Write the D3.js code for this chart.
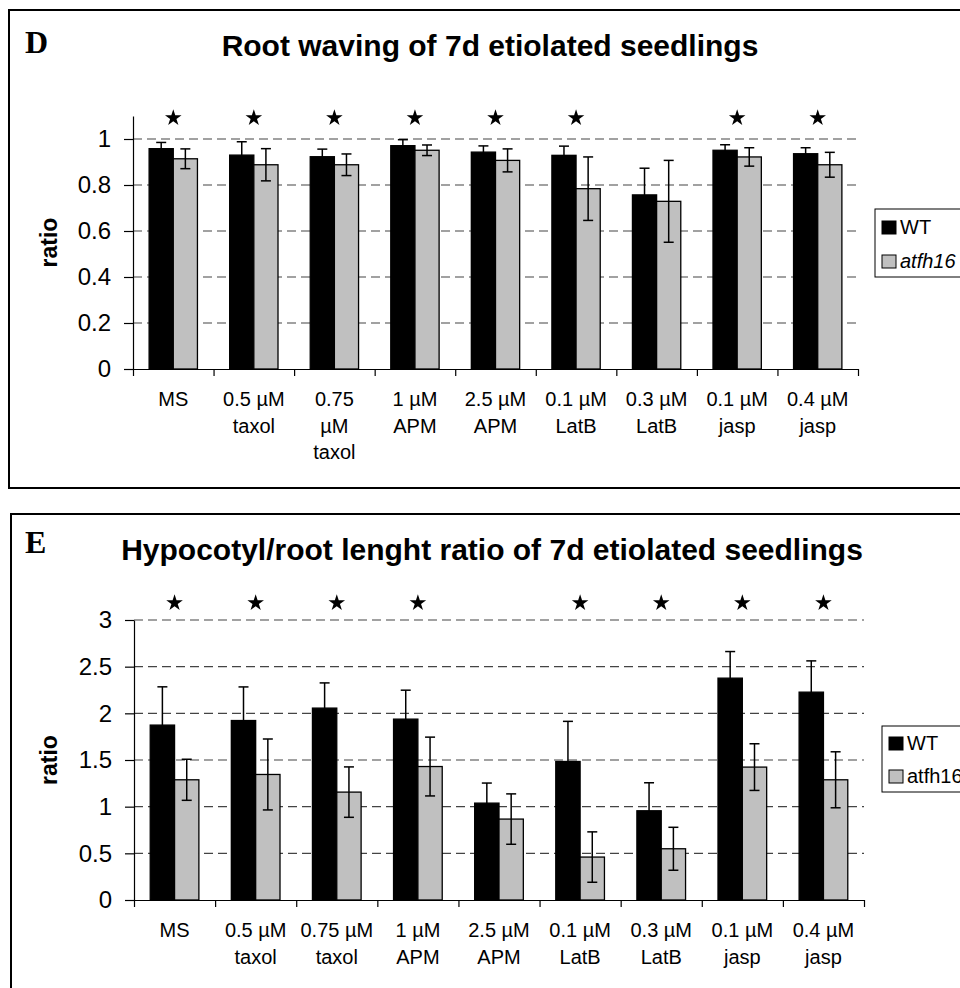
<!DOCTYPE html>
<html>
<head>
<meta charset="utf-8">
<script src="https://cdnjs.cloudflare.com/ajax/libs/d3/7.8.5/d3.min.js"></script>
<style>
  body { margin: 0; background: #fff; }
  svg { display: block; font-family: "Liberation Sans", Arial, sans-serif; }
</style>
</head>
<body>
<div id="chart"></div>
<script>
// Panel D - root waving
const wavingCategories = [["MS"], ["0.5 µM", "taxol"], ["0.75", "µM", "taxol"], ["1 µM", "APM"],
    ["2.5 µM", "APM"], ["0.1 µM", "LatB"], ["0.3 µM", "LatB"], ["0.1 µM", "jasp"], ["0.4 µM", "jasp"]];
const wavingWT = [0.958, 0.93, 0.923, 0.971, 0.943, 0.929, 0.757, 0.951, 0.936];
const wavingWTErr = [0.027, 0.058, 0.033, 0.026, 0.027, 0.04, 0.116, 0.024, 0.026];
const wavingMut = [0.914, 0.888, 0.888, 0.951, 0.907, 0.784, 0.729, 0.922, 0.888];
const wavingMutErr = [0.043, 0.07, 0.047, 0.023, 0.05, 0.138, 0.178, 0.04, 0.054];
const wavingStars = [1, 1, 1, 1, 1, 1, 0, 1, 1];
const wavingTicks = [0, 0.2, 0.4, 0.6, 0.8, 1];

// Panel E - hypocotyl/root length ratio
const ratioCategories = [["MS"], ["0.5 µM", "taxol"], ["0.75 µM", "taxol"], ["1 µM", "APM"],
    ["2.5 µM", "APM"], ["0.1 µM", "LatB"], ["0.3 µM", "LatB"], ["0.1 µM", "jasp"], ["0.4 µM", "jasp"]];
const ratioWT = [1.874, 1.923, 2.056, 1.938, 1.038, 1.484, 0.956, 2.377, 2.227];
const ratioWTErr = [0.41, 0.36, 0.27, 0.31, 0.215, 0.43, 0.30, 0.285, 0.335];
const ratioMut = [1.288, 1.345, 1.156, 1.43, 0.867, 0.46, 0.549, 1.424, 1.288];
const ratioMutErr = [0.22, 0.38, 0.27, 0.315, 0.27, 0.27, 0.23, 0.25, 0.30];
const ratioStars = [1, 1, 1, 1, 0, 1, 1, 1, 1];
const ratioTicks = [0, 0.5, 1, 1.5, 2, 2.5, 3];

const svg = d3.select("#chart").append("svg")
    .attr("width", 960)
    .attr("height", 988);

svg.append("rect").attr("width", 960).attr("height", 988).attr("fill", "#fff");

function drawPanel(p) {
    // frame
    svg.append("rect")
        .attr("x", p.box[0]).attr("y", p.box[1])
        .attr("width", p.box[2]).attr("height", p.box[3])
        .attr("fill", "none").attr("stroke", "#000").attr("stroke-width", 2);

    svg.append("text")
        .attr("x", 25).attr("y", p.letterY)
        .style("font-family", "'Liberation Serif', 'Times New Roman', serif")
        .style("font-weight", "bold").style("font-size", "32px")
        .text(p.letter);

    svg.append("text")
        .attr("x", p.titleX).attr("y", p.titleY)
        .attr("text-anchor", "middle")
        .style("font-weight", "bold").style("font-size", p.titleSize)
        .text(p.title);

    const m = p.plot; // left, right, top, bottom in px
    const W = m.right - m.left, H = m.bottom - m.top;
    const g = svg.append("g").attr("transform", `translate(${m.left},${m.top})`);

    const n = p.categories.length;
    const x0 = d3.scaleBand().domain(d3.range(n)).range([0, W]).paddingInner(0.4).paddingOuter(0.2);
    const x1 = d3.scaleBand().domain(["wt", "mut"]).range([0, x0.bandwidth()]);
    const xTick = d3.scaleLinear().domain([0, n]).range([0, W]);
    const y = d3.scaleLinear().domain([0, p.yMax]).range([H, 0]);

    // dashed gridlines
    g.selectAll(".grid")
        .data(p.ticks.filter(t => t > 0))
        .enter().append("line")
        .attr("x1", 0).attr("x2", W)
        .attr("y1", d => y(d)).attr("y2", d => y(d))
        .attr("stroke", "#444").attr("stroke-width", 1.2)
        .attr("stroke-dasharray", "9,5");

    // y axis
    g.append("g")
        .call(d3.axisLeft(y).tickValues(p.ticks).tickSize(9).tickSizeOuter(0).tickPadding(13)
            .tickFormat(d3.format("~g")))
        .call(a => {
            a.selectAll("path, line").attr("stroke", "#000").attr("stroke-width", 1.2);
            a.selectAll("text").attr("fill", "#000").style("font-size", "24px")
                .style("font-family", "'Liberation Sans', Arial, sans-serif");
        });

    // y label
    g.append("text")
        .attr("transform", `translate(${p.yLabelX - m.left},${H / 2}) rotate(-90)`)
        .attr("text-anchor", "middle")
        .style("font-weight", "bold").style("font-size", "23px")
        .text("ratio");

    const rows = d3.range(n).map(i => ({
        i, wt: p.wt[i], wtErr: p.wtErr[i], mut: p.mut[i], mutErr: p.mutErr[i], star: p.stars[i]
    }));

    const grp = g.selectAll(".grp").data(rows).enter().append("g")
        .attr("transform", d => `translate(${x0(d.i)},0)`);

    const bw = x1.bandwidth();
    [["wt", "#000"], ["mut", "#c0c0c0"]].forEach(([key, fill]) => {
        grp.append("rect")
            .attr("x", x1(key)).attr("width", bw)
            .attr("y", d => y(d[key])).attr("height", d => H - y(d[key]))
            .attr("fill", fill).attr("stroke", "#000").attr("stroke-width", 1.3);
        const cx = x1(key) + bw / 2;
        const errG = grp.append("g").attr("stroke", "#000").attr("stroke-width", 1.5);
        errG.append("line").attr("x1", cx).attr("x2", cx)
            .attr("y1", d => y(d[key] - d[key + "Err"])).attr("y2", d => y(d[key] + d[key + "Err"]));
        errG.append("line").attr("x1", cx - 5).attr("x2", cx + 5)
            .attr("y1", d => y(d[key] + d[key + "Err"])).attr("y2", d => y(d[key] + d[key + "Err"]));
        errG.append("line").attr("x1", cx - 5).attr("x2", cx + 5)
            .attr("y1", d => y(d[key] - d[key + "Err"])).attr("y2", d => y(d[key] - d[key + "Err"]));
    });

    // significance stars
    grp.filter(d => d.star)
        .append("path")
        .attr("d", d3.symbol(d3.symbolStar, 85))
        .attr("transform", `translate(${x0.bandwidth() / 2},${p.starY - m.top})`)
        .attr("fill", "#000");

    // x axis with ticks at category boundaries
    g.append("g")
        .attr("transform", `translate(0,${H})`)
        .call(d3.axisBottom(xTick).tickValues(d3.range(n + 1)).tickSize(7).tickSizeOuter(0).tickFormat(""))
        .call(a => a.selectAll("path, line").attr("stroke", "#000").attr("stroke-width", 1.2));

    // category labels
    const lab = g.selectAll(".cat").data(p.categories).enter().append("text")
        .attr("text-anchor", "middle")
        .style("font-size", "20px")
        .attr("transform", (d, i) => `translate(${x0(i) + x0.bandwidth() / 2},${H + 37})`);
    lab.selectAll("tspan").data(d => d).enter().append("tspan")
        .attr("x", 0).attr("y", (d, j) => j * 26.5)
        .text(d => d);

    // legend
    const L = p.legend;
    svg.append("rect")
        .attr("x", L.x).attr("y", L.y).attr("width", 120).attr("height", L.h)
        .attr("fill", "#fff").attr("stroke", "#000").attr("stroke-width", 1);
    [["WT", "#000", false], [p.mutLabel, "#c0c0c0", p.mutItalic]].forEach(([name, fill, ital], k) => {
        const by = L.y + L.first + k * L.step;
        svg.append("rect")
            .attr("x", L.x + 7).attr("y", by - 13).attr("width", 14).attr("height", 13)
            .attr("fill", fill).attr("stroke", "#000").attr("stroke-width", 1);
        svg.append("text")
            .attr("x", L.x + 25).attr("y", by)
            .style("font-size", "20px")
            .style("font-style", ital ? "italic" : "normal")
            .text(name);
    });
}

drawPanel({
    box: [9, 10, 1000, 478],
    letter: "D", letterY: 53,
    title: "Root waving of 7d etiolated seedlings", titleX: 490, titleY: 56, titleSize: "30px",
    plot: { left: 133, right: 858, top: 116, bottom: 369 },
    yMax: 1.1, ticks: wavingTicks, yLabelX: 57,
    categories: wavingCategories,
    wt: wavingWT, wtErr: wavingWTErr, mut: wavingMut, mutErr: wavingMutErr, stars: wavingStars,
    starY: 118,
    legend: { x: 875, y: 209, h: 68, first: 25, step: 34 },
    mutLabel: "atfh16", mutItalic: true
});

drawPanel({
    box: [11, 514, 1000, 500],
    letter: "E", letterY: 553,
    title: "Hypocotyl/root lenght ratio of 7d etiolated seedlings", titleX: 492, titleY: 560, titleSize: "30px",
    plot: { left: 134, right: 864, top: 620, bottom: 900 },
    yMax: 3, ticks: ratioTicks, yLabelX: 57,
    categories: ratioCategories,
    wt: ratioWT, wtErr: ratioWTErr, mut: ratioMut, mutErr: ratioMutErr, stars: ratioStars,
    starY: 603,
    legend: { x: 882, y: 726, h: 66, first: 24, step: 33 },
    mutLabel: "atfh16", mutItalic: false
});
</script>
</body>
</html>
